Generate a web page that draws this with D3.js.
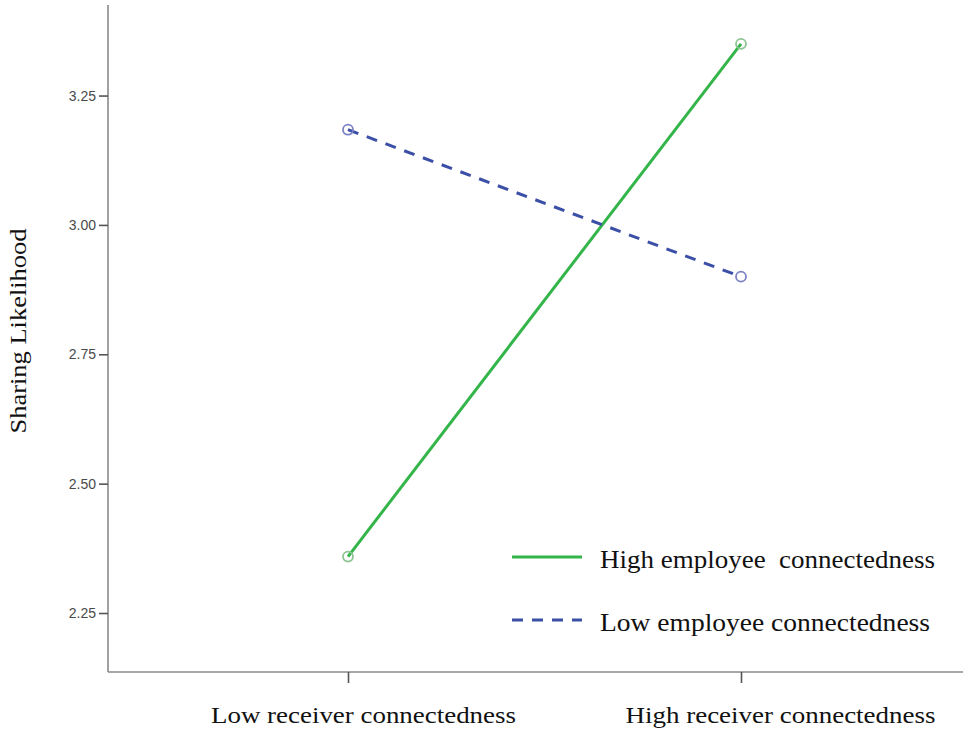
<!DOCTYPE html>
<meta charset="utf-8">
<style>
body { margin: 0; background: #fff; }
.tick text { font-family: "Liberation Sans", Arial, sans-serif; font-size: 14px; fill: #4a4a4a; }
.label { font-family: "Liberation Serif", "Times New Roman", serif; fill: #111; white-space: pre; }
</style>
<svg width="975" height="738"></svg>
<script src="https://cdn.jsdelivr.net/npm/d3@7"></script>
<script>

var categories = ["Low receiver connectedness", "High receiver connectedness"];
var highEmployee = [2.359, 3.350];
var lowEmployee = [3.184, 2.900];
var seriesNames = ["High employee  connectedness", "Low employee connectedness"];
var yTicks = [2.25, 2.50, 2.75, 3.00, 3.25];

var svg = d3.select("svg"),
    margin = {top: 5, left: 108, right: 12, bottom: 66},
    width = +svg.attr("width") - margin.left - margin.right,
    height = +svg.attr("height") - margin.top - margin.bottom;

var g = svg.append("g").attr("transform", "translate(" + margin.left + "," + margin.top + ")");

var x = d3.scalePoint().domain(categories).range([240, 633]);
var y = d3.scaleLinear().domain([2.136, 3.425]).range([height, 0]);

var series = [
  {name: seriesNames[0], values: highEmployee, color: "#33b54a", marker: "#8cc593", dash: null, len: 335},
  {name: seriesNames[1], values: lowEmployee, color: "#3b4fa6", marker: "#7c83c4", dash: "11,9", len: 330}
];

// axes
var yAxis = g.append("g")
    .call(d3.axisLeft(y).tickValues(yTicks).tickFormat(d3.format(".2f")).tickSize(9).tickPadding(3));
var xAxis = g.append("g")
    .attr("transform", "translate(0," + height + ")")
    .call(d3.axisBottom(x).tickSize(11).tickFormat(""));

[yAxis, xAxis].forEach(function(a) {
  a.select(".domain").attr("stroke", "#8a8a8a").attr("stroke-width", 1.6);
  a.selectAll(".tick line").attr("stroke", "#555").attr("stroke-width", 1.6);
});
yAxis.select(".domain").attr("d", "M0,0V" + height);
xAxis.select(".domain").attr("d", "M0,0H" + width);

xAxis.selectAll(".tick").append("text")
    .attr("class", "label")
    .attr("y", 51)
    .attr("text-anchor", "middle")
    .attr("textLength", 305)
    .attr("lengthAdjust", "spacingAndGlyphs")
    .style("font-size", "24px")
    .style("font-family", "'Liberation Serif', serif")
    .style("fill", "#111")
    .text(function(d) { return d; });
xAxis.selectAll(".tick").each(function(d, i) {
  d3.select(this).select("text.label").attr("x", i === 0 ? 15 : 39)
      .attr("textLength", i === 0 ? 305 : 310);
});

svg.append("text")
    .attr("class", "label")
    .attr("transform", "translate(26,331) rotate(-90)")
    .attr("text-anchor", "middle")
    .attr("textLength", 205)
    .attr("lengthAdjust", "spacingAndGlyphs")
    .style("font-size", "23px")
    .text("Sharing Likelihood");

// lines
var line = d3.line()
    .x(function(d, i) { return x(categories[i]); })
    .y(function(d) { return y(d); });

series.forEach(function(s) {
  g.append("path")
      .datum(s.values)
      .attr("fill", "none")
      .attr("stroke", s.color)
      .attr("stroke-width", 3)
      .attr("stroke-dasharray", s.dash)
      .attr("d", line);
  g.selectAll(null)
      .data(s.values)
      .enter().append("circle")
      .attr("cx", function(d, i) { return x(categories[i]); })
      .attr("cy", function(d) { return y(d); })
      .attr("r", 5)
      .attr("fill", "none")
      .attr("stroke", s.marker)
      .attr("stroke-width", 1.8);
});

// legend
var legend = svg.append("g").attr("transform", "translate(512,557)");
series.forEach(function(s, i) {
  var row = legend.append("g").attr("transform", "translate(0," + (i * 63) + ")");
  row.append("line")
      .attr("x1", 0).attr("x2", 70)
      .attr("stroke", s.color)
      .attr("stroke-width", 3)
      .attr("stroke-dasharray", s.dash);
  row.append("text")
      .attr("class", "label")
      .attr("x", 88)
      .attr("y", 11)
      .attr("textLength", s.len)
      .attr("lengthAdjust", "spacingAndGlyphs")
      .style("font-size", "25px")
      .text(s.name);
});

</script>
